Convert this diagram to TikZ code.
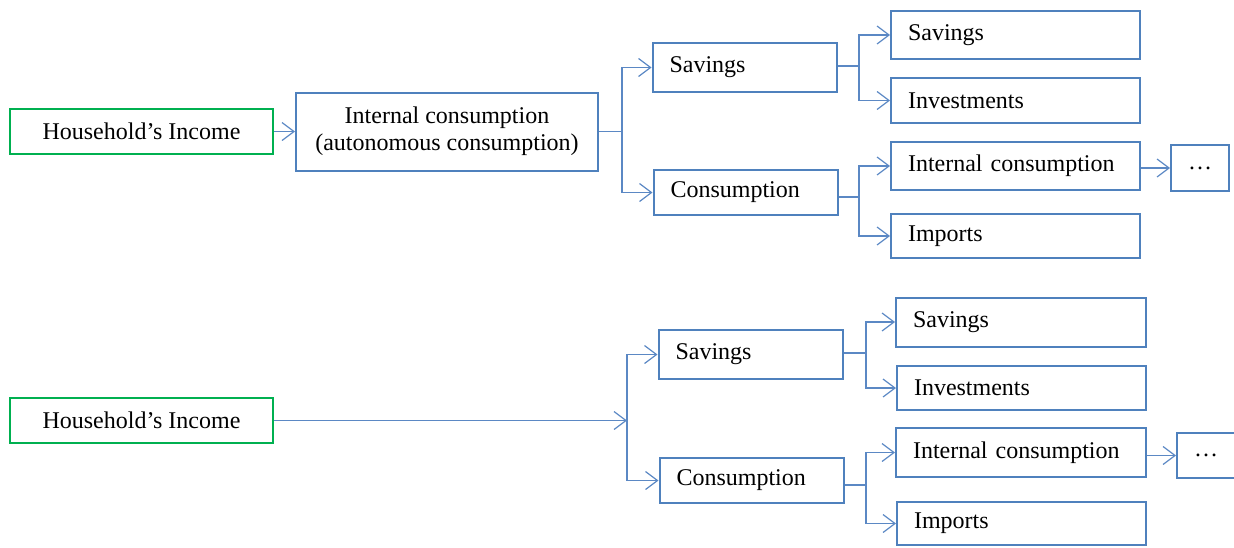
\documentclass[tikz,border=0pt]{standalone}
\usepackage{fontspec}
\setmainfont{Liberation Serif}
\usepackage{xcolor}
\usepackage{tikz}
\usetikzlibrary{arrows.meta}
\definecolor{boxblue}{HTML}{4F81BD}
\definecolor{linkblue}{HTML}{5B88C4}
\definecolor{incgreen}{HTML}{00B050}
\tikzset{
  box/.style={draw=boxblue,line width=2pt,minimum height=#1,inner sep=0pt},
  box/.default=48pt,
  lbox/.style={box,align=left,text width=#1,inner xsep=17pt},
  cbox/.style={box,align=center,minimum width=#1},
  inc/.style={draw=incgreen,line width=2pt,minimum width=263pt,minimum height=45pt,inner sep=0pt},
  link/.style={draw=linkblue,line width=1.2pt}
}
\begin{document}
\begin{tikzpicture}[line cap=butt,line join=miter,>={Straight Barb[length=12pt,width=18pt]},x=1pt,y=-1pt,font=\fontsize{24}{27}\selectfont]
	\useasboundingbox (0,0) rectangle (1234,547);
	% upper scheme
	\node[inc] (hi1) at (141.5,131.5) {Household's Income};
	\node[cbox=302pt,minimum height=78pt] (ic1) at (447,131.5) {Internal consumption\\(autonomous consumption)};
	\node[lbox=150pt,minimum height=49pt] (sav1) at (744.5,67.5) {Savings};
	\node[lbox=150pt,minimum height=45pt] (con1) at (745.5,192.5) {Consumption};
	\node[lbox=215pt,minimum height=48pt] (sav2) at (1015.5,35) {Savings};
	\node[lbox=215pt,minimum height=45pt] (inv1) at (1015.5,100.5) {Investments};
	\node[lbox=215pt,minimum height=48pt] (ic2) at (1015.5,166) {Internal consumption};
	\node[lbox=215pt,minimum height=44pt] (imp1) at (1015.5,236) {Imports};
	\node[cbox=58pt,minimum height=46pt] (dots1) at (1200,168) {\dots};
	\coordinate (b1) at (622,131.5);
	\coordinate (b2) at (859,66);
	\coordinate (b3) at (859,197);
	\draw [link,->] (hi1) -- (ic1);
	\draw [link] (ic1.east) -- (b1);
	\draw [link,->] (b1) |- (sav1);
	\draw [link,->] (b1) |- (con1);
	\draw [link] (sav1.east |- b2) -- (b2);
	\draw [link,->] (b2) |- (sav2);
	\draw [link,->] (b2) |- (inv1);
	\draw [link] (con1.east |- b3) -- (b3);
	\draw [link,->] (b3) |- (ic2);
	\draw [link,->] (b3) |- (imp1);
	\draw [link,->] (ic2.east |- dots1) -- (dots1);
	% lower scheme
	\node[inc] (hi2) at (141.5,420.5) {Household's Income};
	\node[lbox=150pt,minimum height=49pt] (sav3) at (750.5,354.5) {Savings};
	\node[lbox=150pt,minimum height=45pt] (con3) at (751.5,480.5) {Consumption};
	\node[lbox=216pt,minimum height=49pt] (sav4) at (1021,322) {Savings};
	\node[lbox=215pt,minimum height=44pt] (inv2) at (1021.5,388) {Investments};
	\node[lbox=216pt,minimum height=49pt] (ic3) at (1021,452.5) {Internal consumption};
	\node[lbox=215pt,minimum height=43pt] (imp2) at (1021.5,523.5) {Imports};
	\node[cbox=58pt,minimum height=45pt] (dots2) at (1206,455.5) {\dots};
	\coordinate (b4) at (627,420.5);
	\coordinate (b5) at (866,353);
	\coordinate (b6) at (866,485);
	\draw [link,->] (hi2) -- (b4);
	\draw [link,->] (b4) |- (sav3);
	\draw [link,->] (b4) |- (con3);
	\draw [link] (sav3.east |- b5) -- (b5);
	\draw [link,->] (b5) |- (sav4);
	\draw [link,->] (b5) |- (inv2);
	\draw [link] (con3.east |- b6) -- (b6);
	\draw [link,->] (b6) |- (ic3);
	\draw [link,->] (b6) |- (imp2);
	\draw [link,->] (ic3.east |- dots2) -- (dots2);
\end{tikzpicture}
\end{document}
